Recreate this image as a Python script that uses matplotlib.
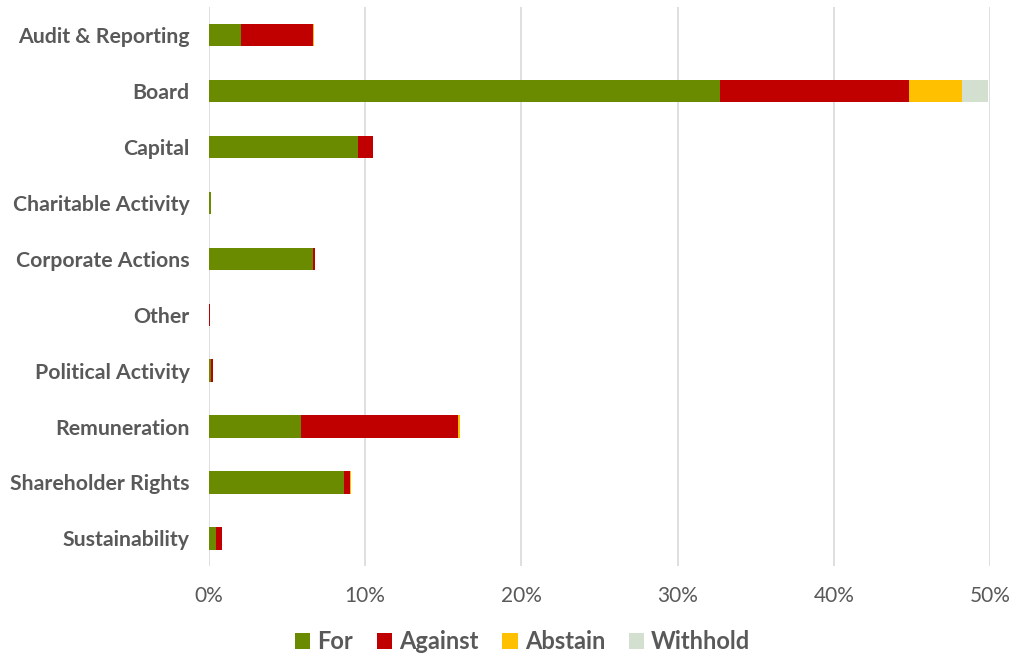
import matplotlib.pyplot as plt
from matplotlib.ticker import PercentFormatter

categories = ["Audit & Reporting", "Board", "Capital", "Charitable Activity",
              "Corporate Actions", "Other", "Political Activity", "Remuneration",
              "Shareholder Rights", "Sustainability"]
for_vals = [2.05, 32.7, 9.55, 0.12, 6.68, 0.0, 0.15, 5.9, 8.65, 0.43]
against_vals = [4.6, 12.1, 0.95, 0.0, 0.12, 0.08, 0.08, 10.05, 0.37, 0.4]
abstain_vals = [0.06, 3.4, 0.0, 0.0, 0.0, 0.0, 0.0, 0.12, 0.06, 0.0]
withhold_vals = [0.0, 1.7, 0.0, 0.0, 0.0, 0.0, 0.0, 0.0, 0.0, 0.0]

series = [("For", for_vals, "#6a8a00"), ("Against", against_vals, "#c00000"),
          ("Abstain", abstain_vals, "#ffc000"), ("Withhold", withhold_vals, "#d3e0d0")]

plt.rcParams['font.family'] = ['Lato', 'DejaVu Sans']
grey = "#595959"

fig = plt.figure(figsize=(10.13, 6.54), dpi=100)
ax = fig.add_axes([0.2063, 0.134, 0.7710, 0.855])

y = list(range(len(categories)))
left = [0.0] * len(categories)
for name, vals, col in series:
    ax.barh(y, vals, left=left, height=0.4, color=col, label=name, zorder=3)
    left = [a + b for a, b in zip(left, vals)]

ax.set_yticks(y)
ax.set_yticklabels(categories, fontsize=15.3, fontweight='bold', color=grey)
ax.set_ylim(len(categories) - 0.5, -0.5)
ax.set_xlim(0, 50)
ax.set_xticks(range(0, 51, 10))
ax.xaxis.set_major_formatter(PercentFormatter(decimals=0))
ax.tick_params(axis='x', labelsize=15, colors=grey, length=0, pad=14)
ax.tick_params(axis='y', length=0, pad=14)
ax.grid(axis='x', color='#d9d9d9', linewidth=1.2, zorder=0)
for s in ax.spines.values():
    s.set_visible(False)

leg = fig.legend(loc='center', bbox_to_anchor=(0.516, 0.019), ncol=4, frameon=False,
                 handlelength=0.65, handleheight=0.65, handletextpad=0.3, columnspacing=1.0,
                 prop={'family': 'Lato', 'weight': 'bold', 'size': 17})
for t in leg.get_texts():
    t.set_color(grey)

fig.savefig("out.png", dpi=100)
